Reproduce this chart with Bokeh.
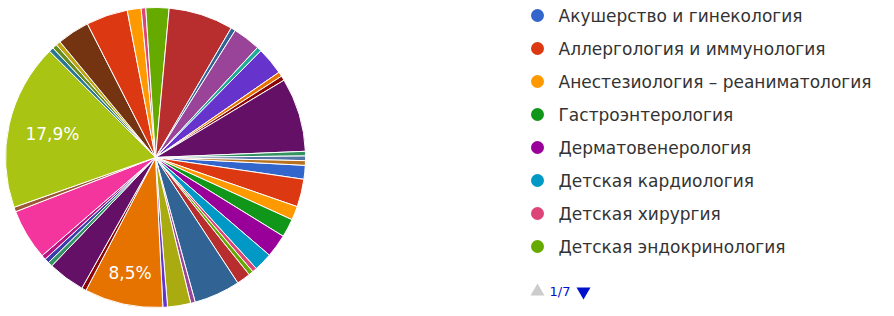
import math
from bokeh.plotting import figure
from bokeh.models import ColumnDataSource, Range1d
from bokeh.core.properties import value
from bokeh.embed import file_html
from bokeh.resources import INLINE

# ---- data (legend order, slices clockwise) ----
categories = [
    "Акушерство и гинекология", "Аллергология и иммунология",
    "Анестезиология – реаниматология", "Гастроэнтерология",
    "Дерматовенерология", "Детская кардиология", "Детская хирургия",
    "Детская эндокринология", "Инфекционные болезни", "Кардиология",
    "Клиническая лабораторная диагностика", "Клиническая фармакология",
    "Колопроктология", "Лечебная физкультура и спортивная медицина",
    "Неврология", "Нейрохирургия", "Неонатология", "Нефрология",
    "Общая врачебная практика (семейная медицина)", "Онкология",
    "Организация здравоохранения и общественное здоровье", "Ортодонтия",
    "Оториноларингология", "Офтальмология", "Патологическая анатомия",
    "Педиатрия", "Пластическая хирургия", "Психиатрия",
    "Психиатрия-наркология", "Пульмонология", "Радиология",
    "Ревматология", "Рентгенология", "Рефлексотерапия",
    "Сердечно-сосудистая хирургия", "Скорая медицинская помощь",
    "Стоматология детская", "Стоматология общей практики",
    "Стоматология ортопедическая", "Стоматология терапевтическая",
    "Стоматология хирургическая", "Судебно-медицинская экспертиза",
    "Терапия", "Торакальная хирургия", "Травматология и ортопедия",
    "Трансфузиология", "Ультразвуковая диагностика", "Урология",
    "Физиотерапия", "Функциональная диагностика", "Хирургия",
    "Эндокринология",
]
counts = [
    3, 6, 3, 4, 5, 4, 1, 1, 3, 10,
    1, 0, 5, 1, 17, 1, 8, 1, 0, 1,
    0, 0, 1, 11, 1, 36, 1, 1, 1, 0,
    7, 0, 9, 3, 0, 0, 0, 1, 5, 14,
    1, 6, 1, 0, 6, 1, 1, 16, 1, 1,
    0, 1,
]
palette = [
    "#3366cc", "#dc3912", "#ff9900", "#109618", "#990099", "#0099c6",
    "#dd4477", "#66aa00", "#b82e2e", "#316395", "#994499", "#22aa99",
    "#aaaa11", "#6633cc", "#e67300", "#8b0707", "#651067", "#329262",
    "#5574a6", "#3b3eac", "#b77322", "#16d620", "#b91383", "#f4359e",
    "#9c5935", "#a9c413", "#2a778d", "#668d1c", "#bea413", "#0c5922",
    "#743411",
]
page_label = "1/7"
legend_rows = 8

# ---- layout constants ----
W, H = 878, 308
CX, CY, R = 155, 151, 150
START_DEG = 93.0  # clockwise from 12 o'clock
FONT = value("DejaVu Sans")

total = sum(counts)
colors = [palette[i % len(palette)] for i in range(len(counts))]

starts, ends, cols, labels, lx, ly = [], [], [], [], [], []
cum = 0
for c, col in zip(counts, colors):
    a0 = START_DEG + cum / total * 360.0
    a1 = START_DEG + (cum + c) / total * 360.0
    cum += c
    if c == 0:
        continue
    starts.append(math.pi / 2 - math.radians(a0))
    ends.append(math.pi / 2 - math.radians(a1))
    cols.append(col)
    share = c / total * 100
    if share >= 8:
        mid = math.radians((a0 + a1) / 2)
        rr = R * (0.68 + 0.11 * abs(math.cos(mid)))
        labels.append(f"{share:.1f}".replace(".", ",") + "%")
        lx.append(CX + rr * math.sin(mid))
        ly.append(CY + rr * math.cos(mid))

src = ColumnDataSource(dict(start=starts, end=ends, color=cols))

p = figure(width=W, height=H, x_range=Range1d(0, W), y_range=Range1d(0, H),
           output_backend="svg", toolbar_location=None, min_border=0,
           x_axis_location=None, y_axis_location=None)
p.grid.visible = False
p.outline_line_color = None

p.wedge(x=CX, y=CY, radius=R, start_angle="start", end_angle="end",
        direction="clock", fill_color="color", line_color="white",
        line_width=1, source=src)

p.text(x=lx, y=ly, text=labels, text_color="white", text_font=FONT,
       text_font_size="17px", text_align="center", text_baseline="middle")

# ---- legend (first page) ----
LX, LY0, DY = 537, 316 - 23, 33
leg_y = [LY0 - i * DY for i in range(legend_rows)]
p.scatter(x=[LX] * legend_rows, y=leg_y, size=13, marker="circle",
          fill_color=colors[:legend_rows], line_color=None)
p.text(x=[LX + 21] * legend_rows, y=leg_y, text=categories[:legend_rows],
       text_color="#333333", text_font=FONT,
       text_font_size="17px", text_baseline="middle")

PY = 316 - 299
p.scatter(x=[LX], y=[PY], marker="triangle", size=14, fill_color="#cccccc", line_color=None)
p.text(x=[LX + 12], y=[PY], text=[page_label], text_color="#0011cc",
       text_font=FONT, text_font_size="13px", text_baseline="middle")
p.scatter(x=[LX + 46], y=[PY], marker="inverted_triangle", size=14, fill_color="#0011cc", line_color=None)

open("out.html", "w").write(file_html(p, INLINE))
